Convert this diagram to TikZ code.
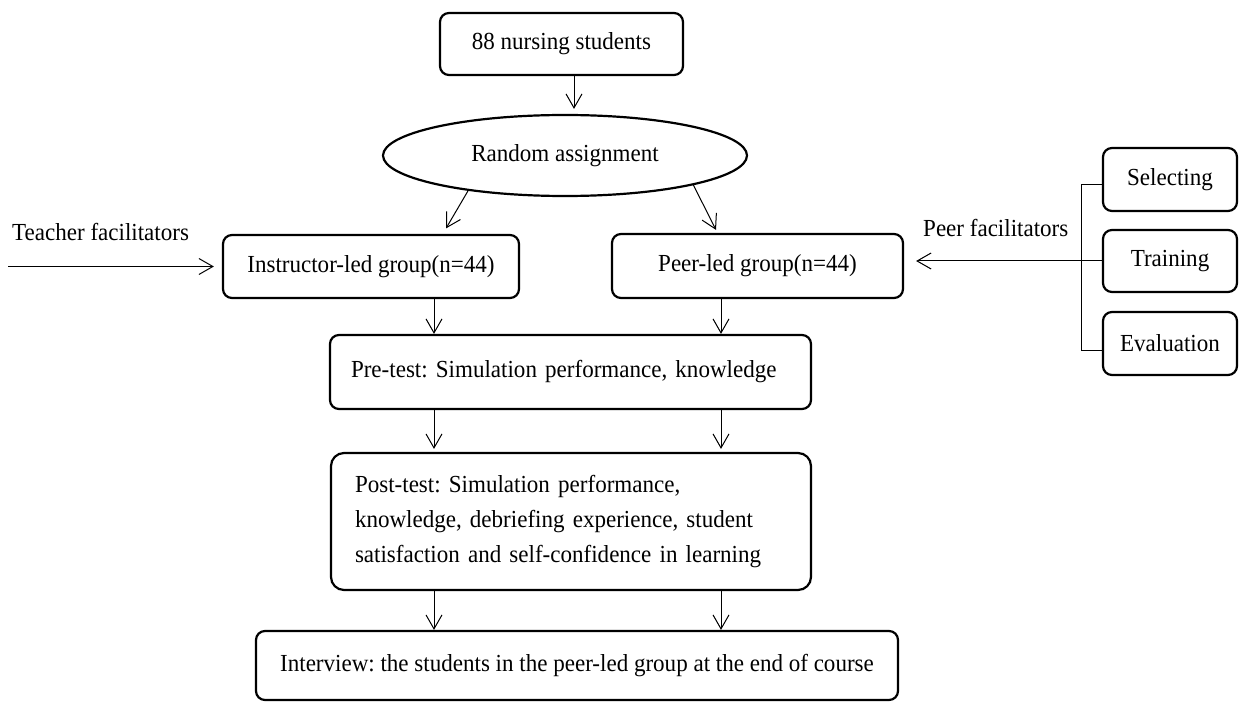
\documentclass[tikz,border=0pt]{standalone}
\usepackage{fontspec}
\setmainfont{Liberation Serif}[FakeStretch=0.94]
\usetikzlibrary{shapes.geometric,arrows.meta,calc}
\begin{document}
\frenchspacing
\begin{tikzpicture}[x=1pt,y=-1pt,
  every node/.style={font=\fontsize{24.5}{35}\selectfont, inner sep=0pt},
  box/.style={draw, line width=2.2pt, rounded corners=9pt, align=center},
  arr/.style={line width=1pt, -{Straight Barb[length=14pt,width=16pt]}},
  conn/.style={line width=1pt}]
\useasboundingbox (0,0) rectangle (1242,703);

% main flow
\node[box, minimum width=243pt, minimum height=62pt] (stu) at (561.5,44) {88 nursing students};
\node[draw, ellipse, line width=2.2pt, minimum width=364pt, minimum height=81pt] (ra) at (565,155.5) {Random assignment};
\node[box, minimum width=296pt, minimum height=63pt] (ins) at (371,266.5) {Instructor-led group(n=44)};
\node[box, minimum width=291pt, minimum height=64pt] (peer) at (757.5,266) {Peer-led group(n=44)};
\node[box, align=left, text width=439pt, inner xsep=21pt, minimum height=74pt] (pre) at (570.5,372)
  {Pre-test: Simulation performance, knowledge};
\node[box, rounded corners=13pt, align=left, text width=432pt, inner xsep=24pt, minimum height=137pt] (post) at (571,521.5)
  {Post-test: Simulation performance,\\knowledge, debriefing experience, student\\satisfaction and self-confidence in learning};
\node[box, minimum width=642pt, minimum height=69pt] (int) at (577,665.5)
  {Interview: the students in the peer-led group at the end of course};

% peer facilitator preparation
\node[box, minimum width=134pt, minimum height=63pt] (sel) at (1170,179.5) {Selecting};
\node[box, minimum width=134pt, minimum height=62pt] (tra) at (1170,261) {Training};
\node[box, minimum width=134pt, minimum height=63pt] (eva) at (1170,343.5) {Evaluation};

% side labels
\node[anchor=base west] (tf) at (12,241) {Teacher facilitators};
\node[anchor=base west] (pf) at (923,237) {Peer facilitators};

% arrow columns
\coordinate (colL) at (434,0);
\coordinate (colR) at (721,0);
\coordinate (tin) at (8,266.5);

% connectors
\draw[arr] ($(stu.south)+(12.5,0)$) -- ($(stu.south |- ra.north)+(12.5,-5)$);
\draw[arr] (ra.200) -- ($(ins.north)+(75,-5.5)$);
\draw[arr] (ra.-13) -- ($(peer.north)+(-41.5,-3)$);
\draw[arr] (ins.south -| colL) -- (pre.north -| colL);
\draw[arr] (peer.south -| colR) -- (pre.north -| colR);
\draw[arr] (pre.south -| colL) -- ($(post.north -| colL)+(0,-3)$);
\draw[arr] (pre.south -| colR) -- ($(post.north -| colR)+(0,-3)$);
\draw[arr] (post.south -| colL) -- (int.north -| colL);
\draw[arr] (post.south -| colR) -- (int.north -| colR);
\draw[arr] (tin) -- ($(ins.west)+(-8,0)$);
\draw[arr] (tra.west) -- ($(peer.east |- tra.west)+(12,0)$);
\draw[conn] ($(sel.west)+(0,5.5)$) -- ++(-20,0) |- ($(eva.west)+(0,6.5)$);
\end{tikzpicture}
\end{document}
